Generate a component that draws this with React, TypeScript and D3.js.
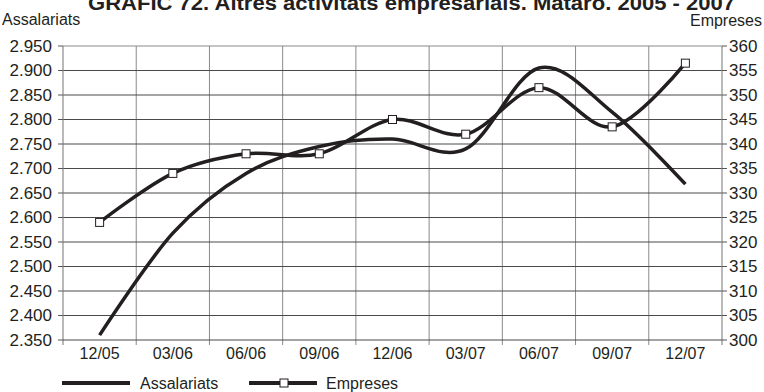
import React from "react";
import * as d3 from "d3";

const categories = ["12/05", "03/06", "06/06", "09/06", "12/06", "03/07", "06/07", "09/07", "12/07"];
const assalariats = [2360, 2568, 2690, 2745, 2760, 2740, 2905, 2815, 2668];
const empreses = [324, 334, 338, 338, 345, 342, 351.5, 343.5, 356.5];
const leftTicks = [2350, 2400, 2450, 2500, 2550, 2600, 2650, 2700, 2750, 2800, 2850, 2900, 2950];
const rightTicks = [300, 305, 310, 315, 320, 325, 330, 335, 340, 345, 350, 355, 360];
const title = "GRÀFIC 72. Altres activitats empresarials. Mataró. 2005 - 2007";

const W = 764, H = 392;
const L = 63, R = 722, T = 46, B = 340;
const INK = "#231f20";
const FONT = "'Liberation Sans', Arial, Helvetica, sans-serif";

const fmt = d3.formatLocale({ decimal: ",", thousands: ".", grouping: [3], currency: ["", "€"] }).format(",");

export default function App() {
  const x = d3.scaleBand<string>().domain(categories).range([L, R]).padding(0);
  const yL = d3.scaleLinear().domain([2350, 2950]).range([B, T]);
  const yR = d3.scaleLinear().domain([300, 360]).range([B, T]);
  const cx = (c: string) => (x(c) as number) + x.bandwidth() / 2;

  const lineA = d3.line<number>().x((_, i) => cx(categories[i])).y(d => yL(d)).curve(d3.curveCardinal.tension(0));
  const lineE = d3.line<number>().x((_, i) => cx(categories[i])).y(d => yR(d)).curve(d3.curveCardinal.tension(0));

  const bounds = categories.map(c => x(c) as number).concat([R]);

  return (
    <svg width={W} height={H} style={{ position: "absolute", left: 0, top: 0, background: "#fff" }} fontFamily={FONT}>
      <rect x={0} y={0} width={W} height={H} fill="#fff" />
      <text x={88} y={10} textLength={647} lengthAdjust="spacingAndGlyphs" fontSize={20} fontWeight="bold" fill={INK}>{title}</text>
      <text x={2} y={25} fontSize={16} fill={INK}>Assalariats</text>
      <text x={762} y={26} fontSize={16} textAnchor="end" fill={INK}>Empreses</text>

      {/* vertical grid */}
      {bounds.slice(1, -1).map((bx, i) => (
        <line key={"vg" + i} x1={bx} x2={bx} y1={T} y2={B + 5} stroke="#8a8a8a" strokeWidth={1} />
      ))}
      {/* horizontal grid */}
      {leftTicks.slice(1).map((t, i) => (
        <line key={"hg" + i} x1={L} x2={R} y1={yL(t)} y2={yL(t)} stroke={i === leftTicks.length - 2 ? "#8a8a8a" : "#4a4a4a"} strokeWidth={1} />
      ))}
      {/* axes */}
      <line x1={L} x2={L} y1={T} y2={B + 5} stroke="#8a8a8a" strokeWidth={1.2} />
      <line x1={R} x2={R} y1={T} y2={B + 5} stroke="#8a8a8a" strokeWidth={1.2} />
      <line x1={L} x2={R} y1={B} y2={B} stroke="#4a4a4a" strokeWidth={1.2} />
      {leftTicks.map((t, i) => (
        <g key={"lt" + i}>
          <line x1={L - 5} x2={L} y1={yL(t)} y2={yL(t)} stroke="#555" />
          <text x={52} y={yL(t)} dy="0.35em" textAnchor="end" fontSize={17} fill={INK}>{fmt(t)}</text>
        </g>
      ))}
      {rightTicks.map((t, i) => (
        <g key={"rt" + i}>
          <line x1={R} x2={R + 5} y1={yR(t)} y2={yR(t)} stroke="#555" />
          <text x={729} y={yR(t)} dy="0.35em" textAnchor="start" fontSize={17} fill={INK}>{t}</text>
        </g>
      ))}
      {categories.map(c => (
        <text key={c} x={cx(c)} y={359} textAnchor="middle" fontSize={16} fill={INK}>{c}</text>
      ))}

      <path d={lineA(assalariats) || ""} fill="none" stroke={INK} strokeWidth={3.5} strokeLinejoin="round" />
      <path d={lineE(empreses) || ""} fill="none" stroke={INK} strokeWidth={3.5} strokeLinejoin="round" />
      {empreses.map((v, i) => (
        <rect key={"m" + i} x={cx(categories[i]) - 4} y={yR(v) - 4} width={8} height={8} fill="#fff" stroke={INK} strokeWidth={1} />
      ))}

      {/* legend */}
      <line x1={62} x2={130} y1={383} y2={383} stroke={INK} strokeWidth={4} />
      <text x={140} y={383} dy="0.35em" fontSize={16} fill={INK}>Assalariats</text>
      <line x1={249} x2={317} y1={383} y2={383} stroke={INK} strokeWidth={4} />
      <rect x={280} y={379} width={8} height={8} fill="#fff" stroke={INK} strokeWidth={1} />
      <text x={326} y={383} dy="0.35em" fontSize={16} fill={INK}>Empreses</text>
    </svg>
  );
}
